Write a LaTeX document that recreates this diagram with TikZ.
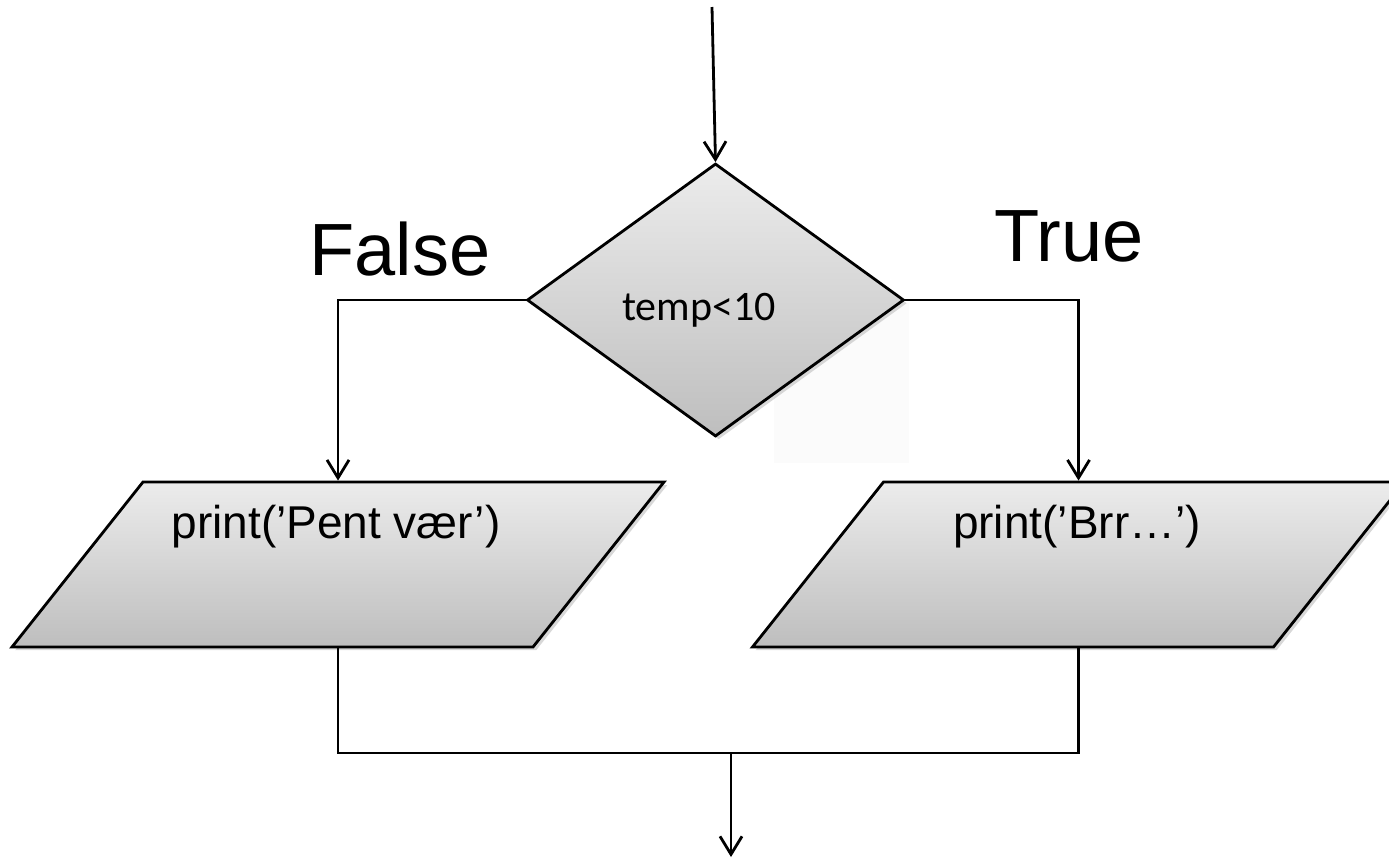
\documentclass[tikz,border=0pt]{standalone}
\usepackage{fontspec}
\setmainfont{Liberation Sans}
\newfontfamily\calfont{Carlito}
\usetikzlibrary{shapes.geometric,arrows.meta,shadows}
\begin{document}
\begin{tikzpicture}[x=0.5pt,y=-0.5pt,
  line width=1.4pt,
  arr/.style={-{Straight Barb[length=9pt,width=11pt,line width=1.4pt]}},
  shapefill/.style={draw=black, top color=gray!15, bottom color=gray!51, shading angle=0,
    drop shadow={shadow xshift=1.6pt, shadow yshift=-1.6pt, fill=black!30, opacity=0.5}},
  decision/.style={shapefill, diamond, inner sep=0pt, minimum width=188.5pt, minimum height=136.5pt},
  iobox/.style={shapefill, trapezium, trapezium left angle=51.55, trapezium right angle=128.45,
    inner sep=0pt, text width=195pt, text height=82.5pt, text depth=0pt},
  biglabel/.style={font=\fontsize{37pt}{44pt}\selectfont, inner sep=0pt, anchor=base},
  boxtext/.style={font=\fontsize{23pt}{27pt}\selectfont, inner sep=0pt, anchor=base},
  condtext/.style={font=\calfont\fontsize{21pt}{25pt}\selectfont, inner sep=0pt}
]
\useasboundingbox (0,0) rectangle (1389,859);
\fill[gray!3] (774,303) rectangle (909,463);
\node[decision] (d) at (715.5,300) {};
\node[condtext] (cond) at (699,310) {temp<10};
\node[iobox] (pl) at (338,564.5) {};
\node[iobox] (pr) at (1078.5,564.5) {};
\node[boxtext] (tl) at (336,538) {print(’Pent vær’)};
\node[boxtext] (tr) at (1077,538) {print(’Brr…’)};
\node[biglabel] (lf) at (400,275) {False};
\node[biglabel] (lt) at (1069,261) {True};
\coordinate (start) at (712,7);
\coordinate (j) at (731,753);
\coordinate (end) at (731,857);
\draw[arr] (start) -- (d.north);
\draw[arr] (d.west) -| (pl.north);
\draw[arr] (d.east) -| (pr.north);
\draw (pl.south) |- (j) -| (pr.south);
\draw[arr] (j) -- (end);
\end{tikzpicture}
\end{document}
